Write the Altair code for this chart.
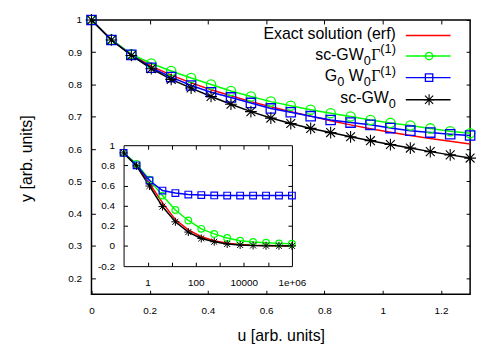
import altair as alt
import pandas as pd

FONT = "Liberation Sans"

# ---------------- data ----------------
series_keys = ["exact", "scgw0gamma", "g0w0gamma", "scgw0"]
series_colors = ["#ff0000", "#00ff00", "#0000ff", "#000000"]

u_main = [0.0, 0.0684, 0.1368, 0.2053, 0.2737, 0.3421, 0.4105, 0.4789, 0.5474, 0.6158,
          0.6842, 0.7526, 0.8211, 0.8895, 0.9579, 1.0263, 1.0947, 1.1632, 1.2316, 1.3]
exact_main = [1.0, 0.939, 0.893, 0.857, 0.829, 0.805, 0.784, 0.765, 0.747, 0.731,
              0.716, 0.702, 0.688, 0.675, 0.663, 0.652, 0.642, 0.633, 0.624, 0.616]
scgw0gamma_main = [1.0, 0.939, 0.894, 0.865, 0.842, 0.820, 0.800, 0.780, 0.763, 0.747,
                   0.734, 0.722, 0.711, 0.701, 0.690, 0.681, 0.673, 0.664, 0.655, 0.649]
g0w0gamma_main = [1.0, 0.938, 0.892, 0.852, 0.823, 0.797, 0.776, 0.760, 0.743, 0.726,
                  0.714, 0.702, 0.690, 0.682, 0.675, 0.665, 0.657, 0.651, 0.646, 0.642]
scgw0_main = [1.0, 0.938, 0.890, 0.849, 0.816, 0.789, 0.763, 0.739, 0.716, 0.696,
              0.679, 0.664, 0.651, 0.638, 0.626, 0.614, 0.603, 0.592, 0.582, 0.572]

u_inset = [0.1, 0.3455, 1.194, 4.125, 14.25, 49.24, 170.1, 587.9, 2031, 7017,
           24245, 83768, 289427, 1000000]
exact_inset = [0.924, 0.80, 0.62, 0.43, 0.262, 0.160, 0.092, 0.052, 0.028, 0.015,
               0.008, 0.004, 0.002, 0.001]
scgw0gamma_inset = [0.924, 0.815, 0.658, 0.50, 0.357, 0.253, 0.170, 0.120, 0.079, 0.053,
                    0.040, 0.032, 0.026, 0.022]
g0w0gamma_inset = [0.924, 0.80, 0.650, 0.55, 0.525, 0.51, 0.505, 0.502, 0.50, 0.50,
                   0.50, 0.50, 0.50, 0.50]
scgw0_inset = [0.924, 0.795, 0.595, 0.391, 0.24, 0.138, 0.075, 0.042, 0.02, 0.01,
               0.005, 0.003, 0.002, 0.001]

main_x_ticks = [0, 0.2, 0.4, 0.6, 0.8, 1.0, 1.2]
main_y_ticks = [0.2, 0.3, 0.4, 0.5, 0.6, 0.7, 0.8, 0.9, 1.0]
inset_x_labels = [1, 100, 10000, 1000000]
inset_x_ticks = [1, 10, 100, 1000, 10000, 100000]
inset_y_labels = [-0.2, 0, 0.2, 0.4, 0.6, 0.8, 1.0]
inset_y_ticks = [0, 0.2, 0.4, 0.6, 0.8]


def long_table(u, cols, xname, yname):
    rows = []
    for key, vals in zip(series_keys, cols):
        for uu, vv in zip(u, vals):
            rows.append({xname: uu, yname: vv, "s": key})
    return pd.DataFrame(rows)


main_df = long_table(u_main, [exact_main, scgw0gamma_main, g0w0gamma_main, scgw0_main], "u", "y")
inset_df = long_table(u_inset, [exact_inset, scgw0gamma_inset, g0w0gamma_inset, scgw0_inset], "ul", "yl")

# ---------------- layout ----------------
W, H = 381, 276
INSET_L, INSET_R, INSET_T, INSET_B = 32.3, 201.7, 126.0, 247.7

COLOR = alt.Scale(domain=series_keys, range=series_colors)
STAR = "M-1,0L1,0M0,-1L0,1M-0.75,-0.75L0.75,0.75M-0.75,0.75L0.75,-0.75"
SHAPE2 = alt.Scale(domain=series_keys[1:3], range=["circle", "square"])

X_MAIN = alt.Scale(domain=[0, 1.3], nice=False, zero=False)
Y_MAIN = alt.Scale(domain=[0.15, 1], nice=False, zero=False)
X_IN = alt.Scale(type="log", domain=[0.1, 1e6], range=[INSET_L, INSET_R], nice=False)
Y_IN = alt.Scale(domain=[-0.2, 1], range=[INSET_B, INSET_T], nice=False, zero=False)

OPEN = alt.FieldOneOfPredicate(field="s", oneOf=series_keys[1:3])
STARRED = alt.FieldEqualPredicate(field="s", equal="scgw0")


def tick_axis(orient, offset, values, domain=False, size=4):
    return alt.Axis(orient=orient, offset=offset, values=values, labels=False,
                    domain=domain, domainColor="black", domainWidth=1,
                    ticks=True, tickSize=size, tickColor="black", tickWidth=1,
                    title=None, grid=False)


# main panel layers
m_lines = alt.Chart(main_df).mark_line(strokeWidth=1.5).encode(
    x=alt.X("u:Q", scale=X_MAIN, axis=alt.Axis(
        orient="bottom", values=main_x_ticks, format=".1~f", labelFontSize=10,
        labelPadding=11, ticks=False, tickSize=0, domain=False, labelFlush=False,
        labelOverlap=False, grid=False,
        title="u [arb. units]", titleFontSize=16, titleFontWeight="normal",
        titleX=W / 2, titleY=42, titleBaseline="middle", titleAlign="center")),
    y=alt.Y("y:Q", scale=Y_MAIN, axis=alt.Axis(
        orient="left", values=main_y_ticks, format=".1~f", labelFontSize=10,
        labelPadding=10, ticks=False, tickSize=0, domain=False, labelOverlap=False,
        grid=False,
        title="y [arb. units]", titleFontSize=16, titleFontWeight="normal",
        titleX=-65, titleY=H / 2 + 1, titleAngle=270, titleBaseline="middle",
        titleAlign="center")),
    color=alt.Color("s:N", scale=COLOR, legend=None),
)

m_points = alt.Chart(main_df).transform_filter(OPEN).mark_point(
    filled=False, strokeWidth=1.3, opacity=1, size=88
).encode(
    x=alt.X("u:Q", scale=X_MAIN, axis=tick_axis("top", -H, main_x_ticks)),
    y=alt.Y("y:Q", scale=Y_MAIN, axis=tick_axis("right", -W, main_y_ticks)),
    color=alt.Color("s:N", scale=COLOR, legend=None),
    shape=alt.Shape("s:N", scale=SHAPE2, legend=None),
)

m_stars = alt.Chart(main_df).transform_filter(STARRED).mark_point(
    shape=STAR, filled=False, strokeWidth=1.1, opacity=1, size=140, color="black"
).encode(
    x=alt.X("u:Q", scale=X_MAIN, axis=None),
    y=alt.Y("y:Q", scale=Y_MAIN, axis=None),
)

m_frame = alt.Chart(main_df).mark_line(opacity=0).encode(
    x=alt.X("u:Q", scale=X_MAIN, axis=tick_axis("bottom", -H, main_x_ticks)),
    y=alt.Y("y:Q", scale=Y_MAIN, axis=tick_axis("left", -W, main_y_ticks)),
    detail="s:N",
)

# inset layers
i_lines = alt.Chart(inset_df).mark_line(strokeWidth=1.5).encode(
    x=alt.X("ul:Q", scale=X_IN, axis=alt.Axis(
        orient="bottom", offset=-(H - INSET_B), values=inset_x_labels,
        labelExpr="datum.value >= 1000000 ? '1e+06' : format(datum.value, 'd')",
        labelFontSize=10, labelPadding=11, ticks=False, tickSize=0, domain=True,
        domainColor="black", domainWidth=1, labelFlush=False, labelOverlap=False,
        grid=False, title=None)),
    y=alt.Y("yl:Q", scale=Y_IN, axis=alt.Axis(
        orient="left", offset=-INSET_L, values=inset_y_labels,
        labelExpr="datum.value < 0 ? '-' + format(-datum.value, '.1~f') : format(datum.value, '.1~f')",
        labelFontSize=10, labelPadding=9, ticks=False, tickSize=0, domain=True,
        domainColor="black", domainWidth=1, labelOverlap=False, grid=False, title=None)),
    color=alt.Color("s:N", scale=COLOR, legend=None),
)

i_points = alt.Chart(inset_df).transform_filter(OPEN).mark_point(
    filled=False, strokeWidth=1.2, opacity=1, size=45
).encode(
    x=alt.X("ul:Q", scale=X_IN, axis=tick_axis("top", -INSET_B, inset_x_ticks)),
    y=alt.Y("yl:Q", scale=Y_IN, axis=tick_axis("right", INSET_L - W, inset_y_ticks)),
    color=alt.Color("s:N", scale=COLOR, legend=None),
    shape=alt.Shape("s:N", scale=SHAPE2, legend=None),
)

i_stars = alt.Chart(inset_df).transform_filter(STARRED).mark_point(
    shape=STAR, filled=False, strokeWidth=1.0, opacity=1, size=65, color="black"
).encode(
    x=alt.X("ul:Q", scale=X_IN, axis=None),
    y=alt.Y("yl:Q", scale=Y_IN, axis=None),
)

i_frame = alt.Chart(inset_df).mark_line(opacity=0).encode(
    x=alt.X("ul:Q", scale=X_IN, axis=tick_axis("bottom", INSET_T - H, inset_x_ticks, domain=True)),
    y=alt.Y("yl:Q", scale=Y_IN, axis=tick_axis("left", -INSET_R, inset_y_ticks, domain=True)),
    detail="s:N",
)

# legend (manual, gnuplot style: text then line sample)
leg_rows = pd.DataFrame({"s": series_keys, "ly": [15.7, 36.3, 58.0, 80.3]})
leg_rule = alt.Chart(leg_rows).mark_rule(strokeWidth=1.5).encode(
    x=alt.value(316.3), x2=alt.value(361.3),
    y=alt.Y("ly:Q", scale=None, axis=None),
    color=alt.Color("s:N", scale=COLOR, legend=None),
)
leg_pts = alt.Chart(leg_rows).transform_filter(OPEN).mark_point(
    filled=False, strokeWidth=1.3, opacity=1, size=55
).encode(
    x=alt.value(339.7),
    y=alt.Y("ly:Q", scale=None, axis=None),
    color=alt.Color("s:N", scale=COLOR, legend=None),
    shape=alt.Shape("s:N", scale=SHAPE2, legend=None),
)
leg_star = alt.Chart(leg_rows).transform_filter(STARRED).mark_point(
    shape=STAR, filled=False, strokeWidth=1.1, opacity=1, size=120, color="black"
).encode(
    x=alt.value(339.7),
    y=alt.Y("ly:Q", scale=None, axis=None),
)

R = 306.3
BIG, SMALL = 16, 12.8
w_sup = 1.222 * SMALL
w_gam = 0.60 * BIG
w_sub = 0.556 * SMALL
w_W = 0.944 * BIG
w_sp = 0.278 * BIG
b = [19.4, 40.0, 61.7, 84.0]
SUB, SUP = 5.0, -6.5

sans_pieces = pd.DataFrame([
    {"t": "Exact solution (erf)", "tx": R, "ty": b[0], "fs": BIG},
    # row 2: sc-GW_0 Γ^(1)
    {"t": "(1)", "tx": R, "ty": b[1] + SUP, "fs": SMALL},
    {"t": "0", "tx": R - w_sup - w_gam, "ty": b[1] + SUB, "fs": SMALL},
    {"t": "sc-GW", "tx": R - w_sup - w_gam - w_sub, "ty": b[1], "fs": BIG},
    # row 3: G_0 W_0 Γ^(1)
    {"t": "(1)", "tx": R, "ty": b[2] + SUP, "fs": SMALL},
    {"t": "0", "tx": R - w_sup - w_gam, "ty": b[2] + SUB, "fs": SMALL},
    {"t": "W", "tx": R - w_sup - w_gam - w_sub, "ty": b[2], "fs": BIG},
    {"t": "0", "tx": R - w_sup - w_gam - w_sub - w_W - w_sp, "ty": b[2] + SUB, "fs": SMALL},
    {"t": "G", "tx": R - w_sup - w_gam - 2 * w_sub - w_W - w_sp, "ty": b[2], "fs": BIG},
    # row 4: sc-GW_0
    {"t": "0", "tx": R, "ty": b[3] + SUB, "fs": SMALL},
    {"t": "sc-GW", "tx": R - w_sub, "ty": b[3], "fs": BIG},
])
serif_pieces = pd.DataFrame([
    {"t": "Γ", "tx": R - w_sup, "ty": b[1], "fs": BIG},
    {"t": "Γ", "tx": R - w_sup, "ty": b[2], "fs": BIG},
])


def text_layer(df, font):
    return alt.Chart(df).mark_text(align="right", baseline="alphabetic", font=font,
                                   color="black").encode(
        x=alt.X("tx:Q", scale=None, axis=None),
        y=alt.Y("ty:Q", scale=None, axis=None),
        text="t:N",
        size=alt.Size("fs:Q", scale=None, legend=None),
    )


leg_text = text_layer(sans_pieces, FONT)
leg_gamma = text_layer(serif_pieces, "Liberation Serif")

chart = alt.layer(
    m_frame, i_frame, m_lines, m_points, m_stars, i_lines, i_points, i_stars,
    leg_rule, leg_pts, leg_star, leg_text, leg_gamma,
).resolve_scale(
    x="independent", y="independent"
).resolve_axis(
    x="independent", y="independent"
).properties(
    width=W, height=H,
    padding={"left": 84, "top": 11, "right": 20, "bottom": 52},
    autosize=alt.AutoSizeParams(type="none"),
).configure_view(
    stroke="black", strokeWidth=1.5
).configure_axis(
    labelFont=FONT, titleFont=FONT, labelColor="black", titleColor="black",
    tickColor="black", domainColor="black",
)

chart.save("out.html", embed_options={"renderer": "svg", "actions": False})
